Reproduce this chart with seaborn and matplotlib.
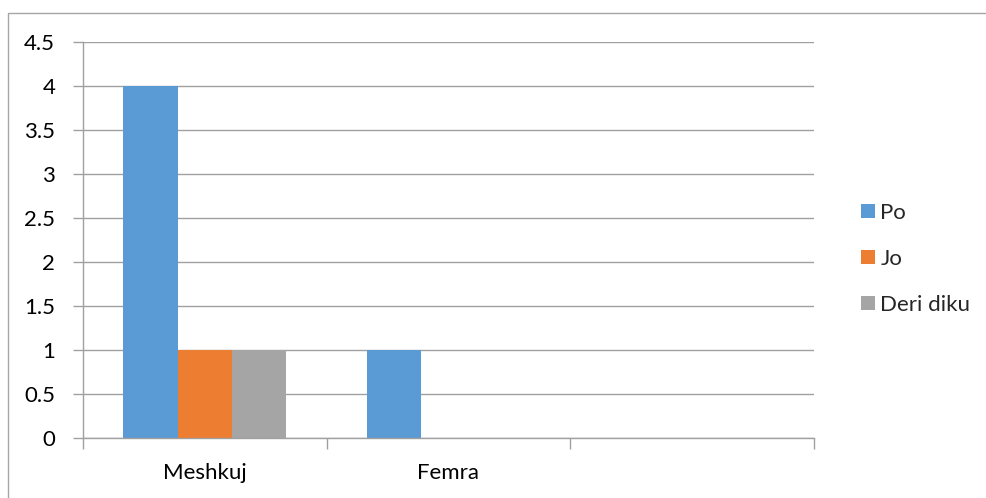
import matplotlib
matplotlib.use("Agg")
import matplotlib.pyplot as plt
import matplotlib.patches as mpatches
import seaborn as sns
import pandas as pd

categories = ["Meshkuj", "Femra", ""]
series = ["Po", "Jo", "Deri diku"]
po = [4, 1]
jo = [1, 0]
deri_diku = [1, 0]
y_ticks = [0, 0.5, 1, 1.5, 2, 2.5, 3, 3.5, 4, 4.5]
colors = ["#5B9BD5", "#ED7D31", "#A5A5A5"]

rows = []
for name, vals in zip(series, [po, jo, deri_diku]):
    for cat, v in zip(categories, vals):
        rows.append({"Kategoria": cat, "Seria": name, "Vlera": v})
df = pd.DataFrame(rows)

sns.set_theme(style="white")
plt.rcParams["font.family"] = ["Lato", "DejaVu Sans"]

W, H = 987, 498
FS = 16
fig = plt.figure(figsize=(W / 100, H / 100), dpi=100)
ax = fig.add_axes([83 / W, 1 - 438 / H, (814 - 83) / W, (438 - 42) / H])

# outer chart border
fig.patches.append(mpatches.Rectangle((8 / W, -0.1), 1.2, (1 - 13 / H) + 0.1,
                                      transform=fig.transFigure, fill=False,
                                      edgecolor="#A6A6A6", linewidth=1.0, zorder=0))

sns.barplot(data=df, x="Kategoria", y="Vlera", hue="Seria", order=categories,
            hue_order=series, palette=colors, width=0.668, saturation=1,
            errorbar=None, ax=ax, edgecolor="none", linewidth=0, legend=False)

ax.set_xlim(-0.5, 2.5)
ax.set_ylim(0, 4.5)
ax.set_xlabel("")
ax.set_ylabel("")

# horizontal gridlines
ax.set_yticks(y_ticks)
ax.set_yticklabels([f"{t:g}" for t in y_ticks])
ax.yaxis.grid(True, color="#A0A0A0", linewidth=1.0)
ax.set_axisbelow(True)

# category boundaries carry the tick marks, centres carry the labels
ax.set_xticks([-0.5, 0.5, 1.5, 2.5])
ax.set_xticklabels([])
ax.set_xticks([0, 1, 2], minor=True)
ax.set_xticklabels(categories, minor=True)
ax.tick_params(axis="x", which="major", direction="out", length=8, width=1,
               color="#A0A0A0", bottom=True)
ax.tick_params(axis="x", which="minor", length=0, pad=18, labelsize=FS,
               labelcolor="#000000")
ax.tick_params(axis="y", direction="out", length=7, width=1, color="#A0A0A0",
               left=True, pad=13, labelsize=FS, labelcolor="#000000")

for s in ["top", "right"]:
    ax.spines[s].set_visible(False)
for s in ["left", "bottom"]:
    ax.spines[s].set_color("#A0A0A0")
    ax.spines[s].set_linewidth(1.0)

handles = [mpatches.Patch(facecolor=c, edgecolor="none") for c in colors]
leg = fig.legend(handles, series, loc="upper left",
                 bbox_to_anchor=(850 / W, 1 - 192 / H), frameon=False,
                 fontsize=FS, handlelength=0.62, handleheight=0.62,
                 handletextpad=0.25, labelspacing=1.16, borderpad=0)

fig.savefig("out.png", dpi=100, facecolor="white")
